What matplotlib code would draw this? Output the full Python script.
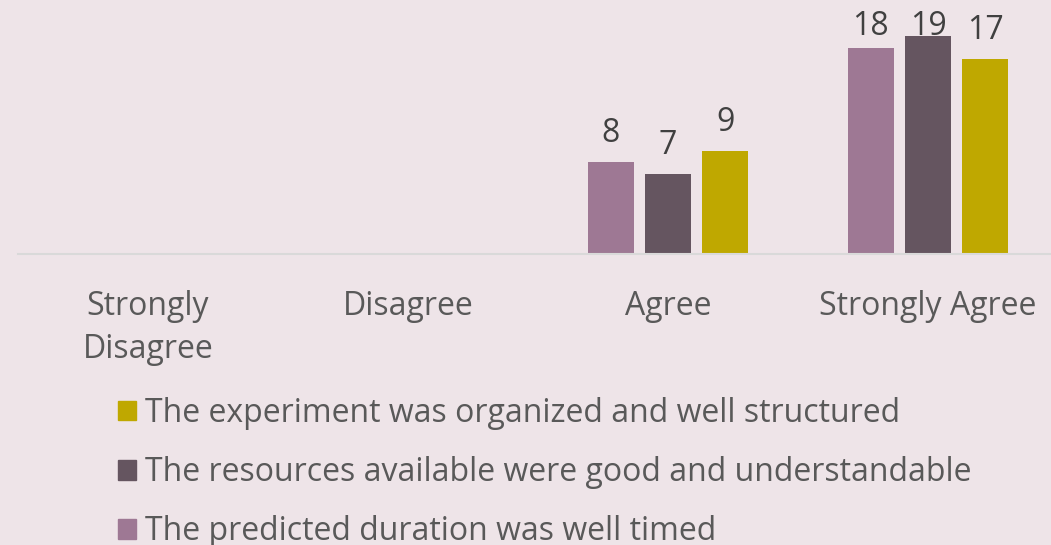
import matplotlib
matplotlib.use("Agg")
import matplotlib.pyplot as plt
import numpy as np
from matplotlib.patches import Patch

categories = ["Strongly\nDisagree", "Disagree", "Agree", "Strongly Agree"]
series_names = [
    "The predicted duration was well timed",
    "The resources available were good and understandable",
    "The experiment was organized and well structured",
]
duration = [0, 0, 8, 18]
resources = [0, 0, 7, 19]
organized = [0, 0, 9, 17]
colors = ["#9E7894", "#655560", "#BFA800"]

bg = "#EEE4E8"
plt.rcParams['font.family'] = ['Open Sans', 'DejaVu Sans']

W, H = 1051, 545
PX = 11.46  # pixels per unit
fig = plt.figure(figsize=(W / 100, H / 100), dpi=100, facecolor=bg)
ax = fig.add_axes([18 / W, 1 - 254 / H, (W - 18) / W, 254 / H])
ax.set_facecolor(bg)

x = np.arange(len(categories))
width = 0.177
offset = 0.221
label_max = 219 / PX
for i, (vals, c) in enumerate(zip([duration, resources, organized], colors)):
    pos = x + (i - 1) * offset
    for xi, v in zip(pos, vals):
        if v > 0:
            ax.bar(xi, v, width=width, color=c)
            ax.text(xi, min(v + 20 / PX, label_max), str(v), ha="center", va="baseline",
                    fontsize=23, color="#404040")

ax.set_xlim(-0.5, (W - 18) / 260 - 0.5)
ax.set_ylim(0, 254 / PX)
for s in ["top", "right", "left"]:
    ax.spines[s].set_visible(False)
ax.spines["bottom"].set_color("#D9D9D9")
ax.spines["bottom"].set_linewidth(1.5)
ax.set_yticks([])
ax.set_xticks(x)
ax.set_xticklabels(categories, fontsize=23, color="#595959", linespacing=1.38, va="top")
ax.tick_params(axis="x", length=0, pad=26)

handles = [Patch(color=colors[i]) for i in [2, 1, 0]]
labels = [series_names[i] for i in [2, 1, 0]]
fig.legend(handles, labels, loc="upper left", bbox_to_anchor=(118 / W, 1 - 397 / H),
           frameon=False, fontsize=23, labelcolor="#595959",
           handlelength=0.56, handleheight=0.56, handletextpad=0.28, labelspacing=0.82,
           borderaxespad=0, borderpad=0)

fig.savefig("out.png", dpi=100, facecolor=bg)
